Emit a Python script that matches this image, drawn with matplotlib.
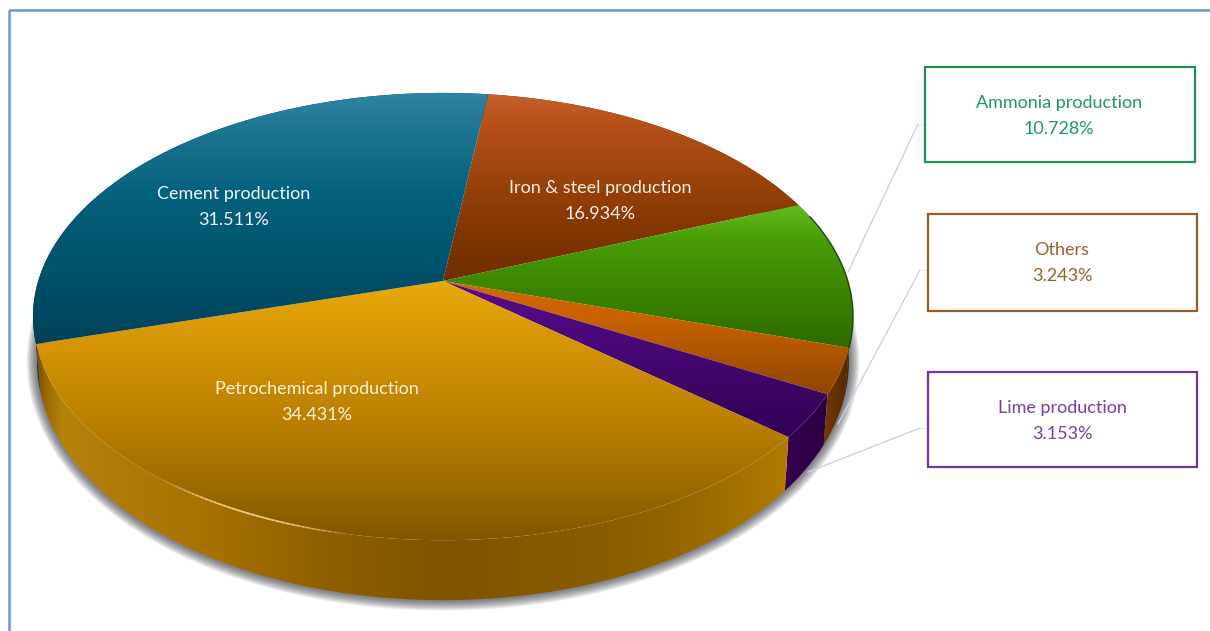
"""Industrial process shares as a tilted, extruded pie with gradient faces."""
import numpy as np
import matplotlib
matplotlib.use("Agg")
import matplotlib.pyplot as plt
from matplotlib.colors import to_rgb
from matplotlib.patches import PathPatch, Polygon, Rectangle
from matplotlib.path import Path

plt.rcParams["font.family"] = ["Lato", "DejaVu Sans"]

# clockwise from the top of the disc
SECTORS = ["Iron & steel production", "Ammonia production", "Others",
           "Lime production", "Petrochemical production", "Cement production"]
SHARES = [16.934, 10.728, 3.243, 3.153, 34.431, 31.511]

# disc geometry, pixels
START_DEG = 7.4
CX, CY = 443, 281
RX, RY = 404.8, 218.0
TILT = 0.159


def rim(theta, scale=1.0):
    """Point on the disc edge for clockwise angle theta (deg from top)."""
    t = np.radians(theta)
    u, v = np.sin(t), -np.cos(t)
    w = 1 / (1 - TILT * v)
    return CX + scale * RX * u * w, CY + RY * v * w, v


def lower_rim(theta):
    x, y, v = rim(theta, scale=0.99)
    return x, y + 42 + 18 * v


def grad_fill(ax, verts, stops, axis="y", zorder=2):
    """Fill a polygon with a linear gradient, stops = [(pixel, colour), ...]."""
    path = Path(np.vstack([verts, verts[0]]), closed=True)
    patch = PathPatch(path, fc="none", ec="none", transform=ax.transData)
    ax.add_patch(patch)
    pos = np.array([s[0] for s in stops], dtype=float)
    cols = np.array([to_rgb(s[1]) for s in stops])
    grid = np.arange(0, 1210 if axis == "x" else 631)
    arr = np.stack([np.interp(grid, pos, cols[:, i]) for i in range(3)], axis=-1)
    arr = arr[None, :, :] if axis == "x" else arr[:, None, :]
    im = ax.imshow(arr, extent=(0, 1210, 631, 0), aspect="auto",
                   interpolation="bilinear", zorder=zorder)
    im.set_clip_path(patch)


# top face gradients, top to bottom
FACE_STOPS = [
    [(96, "#c4602c"), (125, "#b5501a"), (230, "#823600"), (281, "#6f2e00")],
    [(206, "#64ba1e"), (240, "#499c06"), (300, "#3a8000"), (350, "#2c6a00")],
    [(281, "#d06a00"), (320, "#c66200"), (395, "#8e4500")],
    [(281, "#5c0c8c"), (340, "#4a0878"), (440, "#2f0052")],
    [(281, "#e8aa0a"), (345, "#d49404"), (420, "#bb8000"), (480, "#a06d00"), (545, "#7e5400")],
    [(92, "#2f84a2"), (135, "#1b7390"), (190, "#05627d"), (280, "#004f68"), (345, "#00415a")],
]
# side wall gradients, left to right
SIDE_STOPS = [
    [(0, "#5a2a00"), (1210, "#5a2a00")],
    [(800, "#3c2a05"), (860, "#3c2a05")],
    [(820, "#7a3c00"), (855, "#4a2400")],
    [(785, "#36004f"), (830, "#2a0040")],
    [(32, "#684400"), (46, "#9a6a00"), (62, "#b5820c"), (200, "#a87300"),
     (330, "#8e5f00"), (450, "#7e5400"), (620, "#8a5e00"), (700, "#9a6a00"), (790, "#b27c00")],
    [(0, "#003040"), (1210, "#003040")],
]
LABEL_POS = [(600, 201), (1059, 116), (1062, 263), (1062, 421), (317, 402), (234, 207)]
LABEL_COL = ["#f6efe6", "#1f9a5c", "#98602a", "#7a3ca8", "#f8f1dc", "#eef4f6"]
BOXES = [(925, 67, 270, 95, "#1f8f57"), (928, 214, 269, 97, "#9a5a20"),
         (928, 372, 269, 95, "#7034a4")]
LEADERS = [[(848, 272), (918, 124), (925, 124)],
           [(838, 424), (920, 270), (928, 270)],
           [(808, 472), (920, 428), (928, 428)]]

fig = plt.figure(figsize=(12.10, 6.31), dpi=100)
ax = fig.add_axes([0, 0, 1, 1])
ax.set_xlim(0, 1210)
ax.set_ylim(631, 0)
ax.axis("off")

# frame runs off the right and bottom edges
ax.add_patch(Rectangle((9, 9.5), 1300, 700, fc="none", ec="#6d96d8", lw=1.8, zorder=8))

# soft shadow: stacked strokes around the lower disc edge
all_deg = np.linspace(0, 360, 361)
low = np.column_stack(lower_rim(all_deg))
for lw in np.linspace(15, 2, 10):
    ax.add_patch(Polygon(low, closed=True, fc="none", ec="#20202c", alpha=0.075,
                         lw=lw, joinstyle="round", zorder=1))

edges = START_DEG + np.concatenate([[0], np.cumsum(SHARES)]) * 3.6

# side walls first, the faces go over them
for i in range(len(SHARES)):
    deg = np.linspace(edges[i], edges[i + 1], 120)
    tx, ty, _ = rim(deg)
    bx, by = lower_rim(deg)
    wall = np.vstack([np.column_stack([tx, ty]), np.column_stack([bx, by])[::-1]])
    grad_fill(ax, wall, SIDE_STOPS[i], axis="x", zorder=2)

for i in range(len(SHARES)):
    deg = np.linspace(edges[i], edges[i + 1], 160)
    tx, ty, _ = rim(deg)
    face = np.vstack([[CX, CY], np.column_stack([tx, ty])])
    grad_fill(ax, face, FACE_STOPS[i], zorder=3)

# dark edge on the right of the disc, light glint on the front rim
ex, ey, _ = rim(np.linspace(72, 107, 50))
ax.plot(ex, ey, color="#1d4a06", lw=1.0, zorder=4)
glint = np.linspace(191, 217, 40)
gx, gy, _ = rim(glint)
for j in range(len(glint) - 1):
    fade = np.sin(np.pi * j / (len(glint) - 1))
    ax.plot(gx[j:j + 2], gy[j:j + 2], color="#f4d48a", lw=1.3, alpha=0.85 * fade,
            zorder=4, solid_capstyle="round")

for pts in LEADERS:
    p = np.array(pts)
    ax.plot(p[:2, 0], p[:2, 1], color="#c6d4e8", lw=1.0, zorder=4)
    ax.plot(p[1:, 0], p[1:, 1], color="#e6ecf5", lw=1.0, zorder=4)

for x, y, w, h, col in BOXES:
    ax.add_patch(Rectangle((x, y), w, h, fc="white", ec=col, lw=1.6, zorder=5))

for name, share, (x, y), col in zip(SECTORS, SHARES, LABEL_POS, LABEL_COL):
    ax.text(x, y, f"{name}\n{share:.3f}%", color=col, fontsize=13, ha="center",
            va="center", linespacing=1.7, zorder=6)

fig.savefig("out.png", dpi=100)
